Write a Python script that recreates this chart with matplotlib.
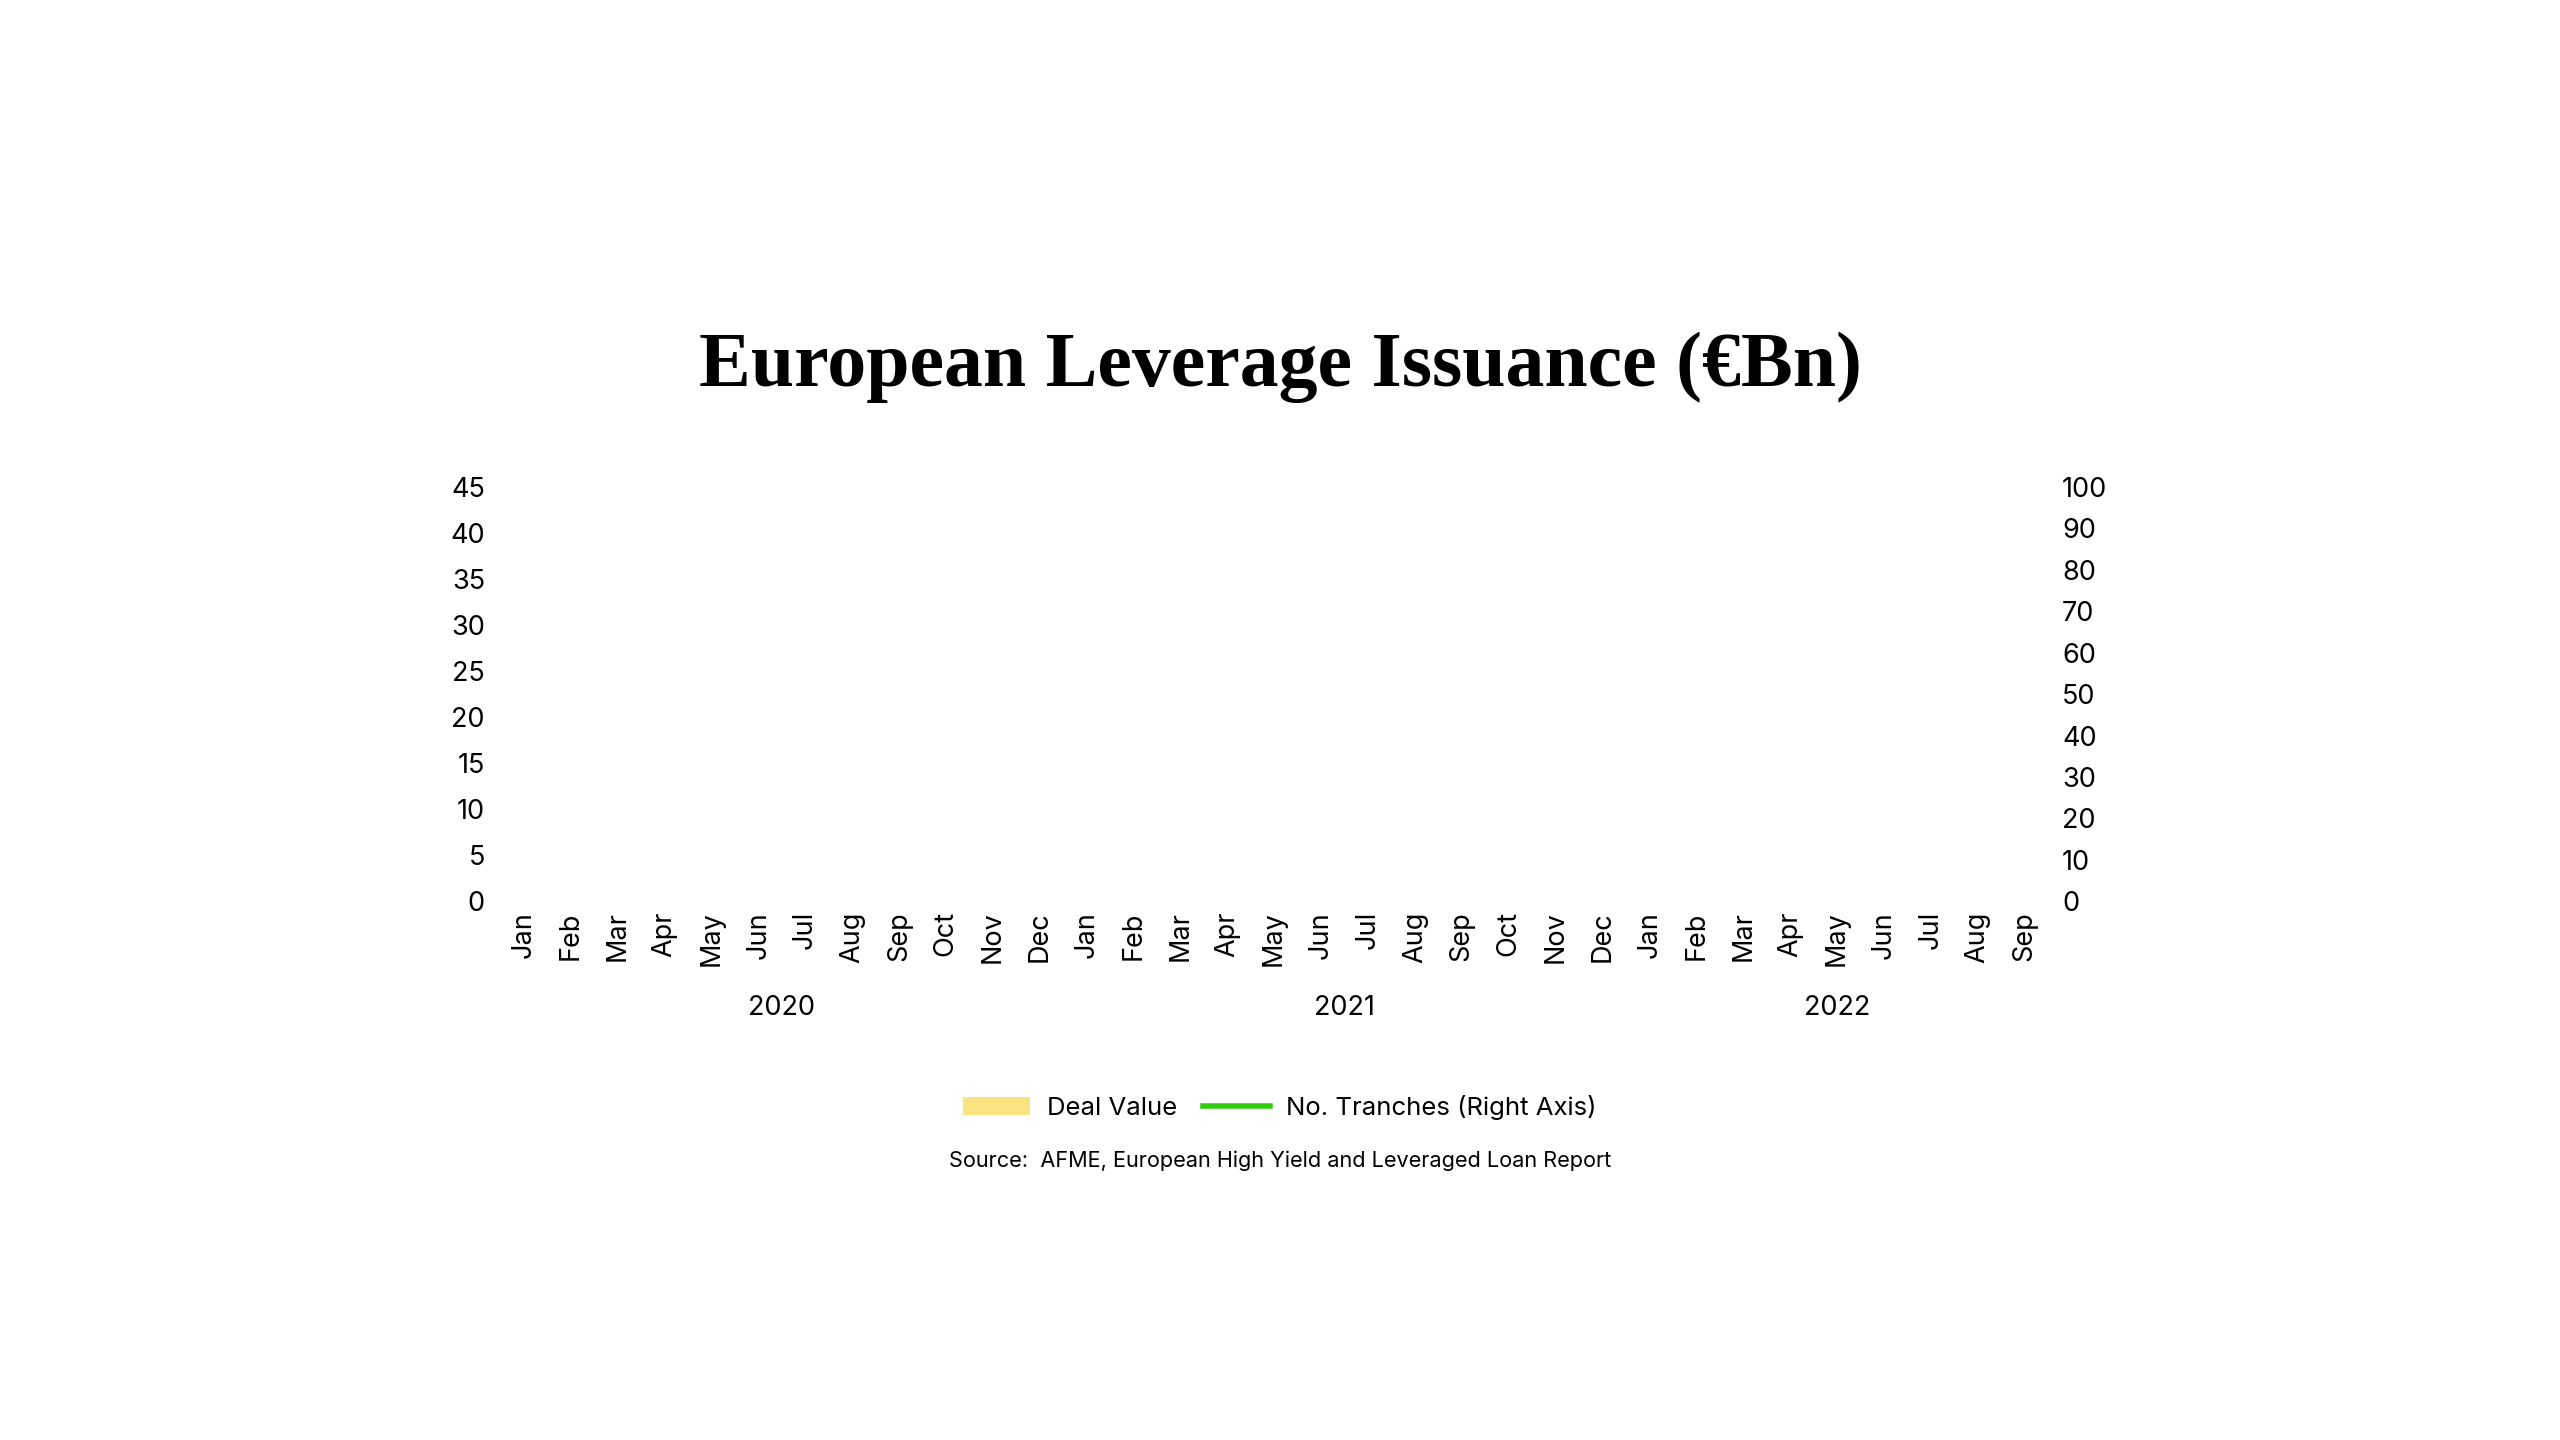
import matplotlib
matplotlib.use("Agg")
import matplotlib.pyplot as plt
import matplotlib.transforms as mtransforms
from matplotlib.patches import Patch
from matplotlib.lines import Line2D
import numpy as np

# ---- data ----
months = ["Jan", "Feb", "Mar", "Apr", "May", "Jun", "Jul", "Aug", "Sep", "Oct", "Nov", "Dec",
          "Jan", "Feb", "Mar", "Apr", "May", "Jun", "Jul", "Aug", "Sep", "Oct", "Nov", "Dec",
          "Jan", "Feb", "Mar", "Apr", "May", "Jun", "Jul", "Aug", "Sep"]
years = ["2020", "2021", "2022"]
year_month_counts = [12, 12, 9]
deal_value = []        # no values shown in reference
tranches = []          # no values shown in reference
left_ticks = [0, 5, 10, 15, 20, 25, 30, 35, 40, 45]
right_ticks = [0, 10, 20, 30, 40, 50, 60, 70, 80, 90, 100]

title = "European Leverage Issuance (€Bn)"
source = "Source:  AFME, European High Yield and Leveraged Loan Report"

bar_color = "#F9E47F"
line_color = "#33CC11"

plt.rcParams['font.family'] = ['Inter', 'DejaVu Sans']

fig = plt.figure(figsize=(25.6, 14.4), dpi=100)
ax = fig.add_axes([0.1954, 0.374, 0.6046, 0.288])
ax2 = ax.twinx()

x = np.arange(len(months))
ax.bar(x[:len(deal_value)], deal_value, color=bar_color, width=0.7)
ax2.plot(x[:len(tranches)], tranches, color=line_color, lw=4)

ax.set_xlim(-0.5, len(months) - 0.5)
ax.set_ylim(0, 45)
ax2.set_ylim(0, 100)
ax.set_xticks(x)
ax.set_xticklabels(months, rotation=90, fontsize=19.5)
ax.set_yticks(left_ticks)
ax.set_yticklabels([str(t) for t in left_ticks], fontsize=19.5)
ax2.set_yticks(right_ticks)
ax2.set_yticklabels([str(t) for t in right_ticks], fontsize=19.5)

for a in (ax, ax2):
    for s in a.spines.values():
        s.set_visible(False)
    a.tick_params(length=0)
ax.tick_params(axis='y', pad=11)
ax.tick_params(axis='x', pad=7)
ax2.tick_params(axis='y', pad=10)
ax.set_facecolor('none')

# year labels centered under their months
trans = mtransforms.blended_transform_factory(ax.transData, fig.transFigure)
start = 0
for yr, n in zip(years, year_month_counts):
    center = start + (n - 1) / 2
    ax.text(center, 0.3, yr, transform=trans, ha='center', va='center', fontsize=19.5)
    start += n

fig.text(0.5, 0.745, title, ha='center', va='center', fontsize=56,
         fontweight='bold', family=['Liberation Serif', 'DejaVu Serif'])

handles = [Patch(facecolor=bar_color, edgecolor='none'),
           Line2D([0], [0], color=line_color, lw=4)]
fig.legend(handles, ["Deal Value", "No. Tranches (Right Axis)"], loc='center',
           bbox_to_anchor=(0.5, 0.231), ncol=2, frameon=False, fontsize=18.5,
           handlelength=2.6, handleheight=0.7, columnspacing=1.0, handletextpad=0.65)

fig.text(0.5, 0.194, source, ha='center', va='center', fontsize=15.6)

fig.savefig("out.png", dpi=100, facecolor='white')
